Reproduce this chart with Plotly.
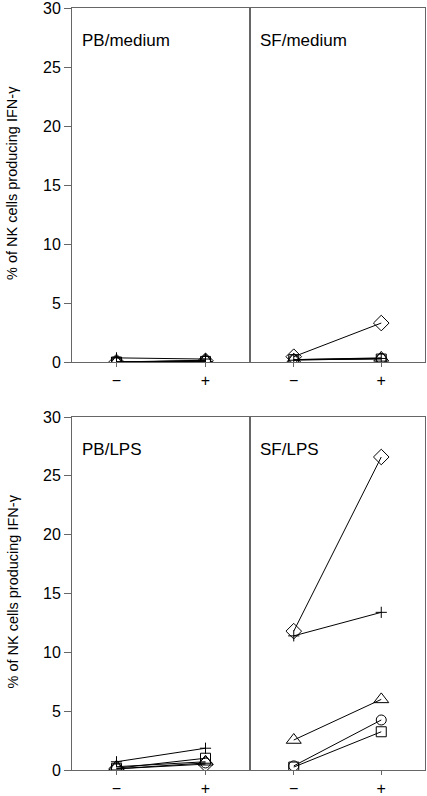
import plotly.graph_objects as go

conditions = ["−", "+"]
tick_labels = ["−", "+"]
panel_names = ["PB/medium", "SF/medium", "PB/LPS", "SF/LPS"]
y_title = "% of NK cells producing IFN-γ"
donor_symbols = ["diamond-open", "cross-thin", "triangle-up-open", "circle-open", "square-open"]

# values per panel: [diamond, plus, triangle, circle, square], each [−, +]
pb_medium = [[0.0, 0.1], [0.35, 0.25], [0.0, 0.15], [0.0, 0.1], [0.0, 0.05]]
sf_medium = [[0.45, 3.3], [0.15, 0.3], [0.2, 0.35], [0.2, 0.3], [0.2, 0.25]]
pb_lps = [[0.1, 0.5], [0.7, 1.85], [0.28, 0.7], [0.1, 0.6], [0.15, 1.0]]
sf_lps = [[11.8, 26.6], [11.4, 13.4], [2.55, 6.0], [0.35, 4.25], [0.25, 3.25]]

panels = [pb_medium, sf_medium, pb_lps, sf_lps]
marker_sizes = {"diamond-open": 12, "cross-thin": 8, "triangle-up-open": 13,
                "circle-open": 10, "square-open": 10}

fig = go.Figure()
for p, data in enumerate(panels):
    ax = "" if p == 0 else str(p + 1)
    for sym, vals in zip(donor_symbols, data):
        fig.add_trace(go.Scatter(
            x=[0, 1], y=vals, mode="lines+markers",
            xaxis="x" + ax, yaxis="y" + ax,
            line=dict(color="black", width=1),
            marker=dict(symbol=sym, size=marker_sizes[sym], color="black",
                        line=dict(color="black", width=1)),
            showlegend=False, cliponaxis=True, hoverinfo="skip"))

font = "Liberation Sans, Arial, Helvetica, sans-serif"
axcol = "#666666"
W, H = 427, 796
ml, mr, mt, mb = 72, 2, 8, 26
pw = W - ml - mr
ph = H - mt - mb
split = 178 / pw
top_dom = [(H - mb - 362) / ph, 1]
bot_dom = [0, (H - mb - 417) / ph]

layout = dict(
    width=W, height=H, margin=dict(l=ml, r=mr, t=mt, b=mb, autoexpand=False),
    plot_bgcolor="white", paper_bgcolor="white",
    font=dict(family=font, size=14, color="black"),
)

def xaxis(dom, anchor):
    return dict(domain=dom, anchor=anchor, range=[-0.5, 1.5],
                tickvals=[0, 1], ticktext=tick_labels,
                ticks="outside", ticklen=4, tickcolor=axcol,
                showline=True, linecolor=axcol, linewidth=1, mirror=True,
                showgrid=False, zeroline=False, automargin=False,
                ticklabeloverflow="allow",
                tickfont=dict(size=16), fixedrange=True)

def yaxis(dom, anchor, left):
    d = dict(domain=dom, anchor=anchor, range=[0, 30],
             showline=True, linecolor=axcol, linewidth=1, mirror=True,
             showgrid=False, zeroline=False, fixedrange=True, automargin=False)
    if left:
        d.update(tickvals=[0, 5, 10, 15, 20, 25, 30], ticks="outside",
                 ticklen=7, tickcolor=axcol, tickfont=dict(size=16),
                 ticklabeloverflow="allow")
    else:
        d.update(showticklabels=False, ticks="")
    return d

layout["xaxis"] = xaxis([0, split], "y")
layout["yaxis"] = yaxis(top_dom, "x", True)
layout["xaxis2"] = xaxis([split, 1], "y2")
layout["yaxis2"] = yaxis(top_dom, "x2", False)
layout["xaxis3"] = xaxis([0, split], "y3")
layout["yaxis3"] = yaxis(bot_dom, "x3", True)
layout["xaxis4"] = xaxis([split, 1], "y4")
layout["yaxis4"] = yaxis(bot_dom, "x4", False)

annots = []
for p, name in enumerate(panel_names):
    ax = "" if p == 0 else str(p + 1)
    annots.append(dict(text=name, xref="x" + ax + " domain", yref="y" + ax + " domain",
                       x=8 / 178, y=1 - 33 / 354, xanchor="left", yanchor="middle",
                       showarrow=False, font=dict(size=17)))
for dom in (top_dom, bot_dom):
    annots.append(dict(text=y_title, xref="paper", yref="paper",
                       x=(12 - ml) / pw, y=(dom[0] + dom[1]) / 2 + 2 / ph,
                       xanchor="center", yanchor="middle", textangle=-90,
                       showarrow=False, font=dict(size=14.5)))
layout["annotations"] = annots

fig.update_layout(**layout)
fig.write_html("out.html", config={"displayModeBar": False},
               post_script="document.body.style.margin='0';document.body.style.overflow='hidden';")
